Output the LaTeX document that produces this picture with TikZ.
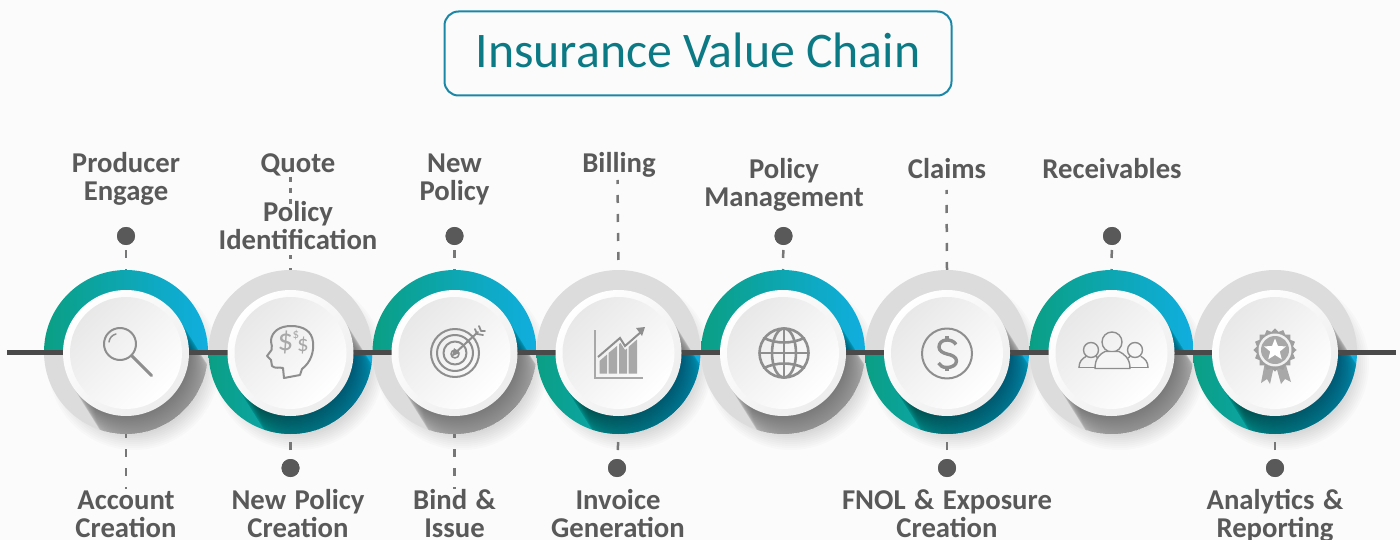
\documentclass[tikz,border=0pt]{standalone}
\usepackage{fontspec}
\setmainfont{Carlito}
\newfontfamily\labfont[WordSpace=1.3]{Carlito}
\usetikzlibrary{calc}
\definecolor{bgc}{HTML}{FBFBFB}
\definecolor{tealc}{HTML}{0A9F84}
\definecolor{bluec}{HTML}{10AEE0}
\definecolor{ringgrey}{HTML}{DCDCDC}
\definecolor{linec}{HTML}{4A4A4A}
\definecolor{dotc}{HTML}{595959}
\definecolor{dashc}{HTML}{777777}
\definecolor{textc}{HTML}{595959}
\definecolor{titlec}{HTML}{0B7A85}
\definecolor{framec}{HTML}{1B87A6}
\definecolor{iconc}{HTML}{8E8E8E}
\definecolor{iconl}{HTML}{A8A8A8}
\tikzset{
  lab/.style={font=\labfont\fontsize{28.7}{28}\selectfont\bfseries,text=textc,align=center,inner sep=0pt},
  dotn/.style={circle,fill=dotc,minimum size=18pt,inner sep=0pt},
  conn/.style={draw=dashc,line width=2.5pt,dash pattern=on 8pt off 11pt},
  ringn/.style={circle,minimum size=164pt,inner sep=0pt},
  whiten/.style={circle,minimum size=126pt,inner sep=0pt,shading=axial,top color=white,bottom color=white!93!black,shading angle=45},
  innern/.style={circle,minimum size=112pt,inner sep=0pt,shading=axial,top color=white!91!black,bottom color=white,shading angle=45},
  ic/.style={draw=iconc,line width=2pt,line join=round,line cap=round},
  icl/.style={fill=iconl,draw=none},
}
\newcommand{\softshadow}[2]{%
  \foreach \rr in {66,68,...,86}{\fill[black,opacity=.014] ($(#2,352)+(8,12)$) circle[radius=\rr];}%
}
\newcommand{\longshadow}[2]{%
  \begin{scope}
    \clip (#2,352) circle[radius=82];
    \foreach \tt in {1,...,40}{\fill[black,opacity=.013] ($(#2,353)+(.53*1.5*\tt,.85*1.5*\tt)$) circle[radius=63];}
  \end{scope}%
}
\newcommand{\colortop}[2]{%
  \softshadow{#1}{#2}%
  \fill[ringgrey] (#2-82,352) arc[start angle=180,end angle=0,radius=82] -- cycle;
  \path[left color=tealc,right color=bluec] (#2-82,352) arc[start angle=180,end angle=360,radius=82] -- cycle;
  \longshadow{#1}{#2}%
}
\newcommand{\colorbot}[2]{%
  \softshadow{#1}{#2}%
  \fill[ringgrey] (#2-82,352) arc[start angle=180,end angle=360,radius=82] -- cycle;
  \path[left color=tealc,right color=bluec] (#2-82,352) arc[start angle=180,end angle=0,radius=82] -- cycle;
  \longshadow{#1}{#2}%
}
\begin{document}
\begin{tikzpicture}[x=1pt,y=-1pt]
\useasboundingbox (0,0) rectangle (1400,540);
\fill[bgc] (0,0) rectangle (1400,540);
% title
\node[draw=framec,line width=2pt,rounded corners=14pt,minimum width=507pt,minimum height=84pt,inner sep=0pt,text=titlec,font=\fontsize{49.8}{56}\selectfont] (title) at (698,53.5) {\raisebox{6pt}{Insurance Value Chain}};
% ring anchors
\foreach \n/\x in {1/126,2/290.5,3/454.5,4/618.5,5/783,6/947,7/1111.5,8/1275}{
  \node[ringn] (r\n) at (\x,352) {};
}
\colortop{1}{126}
\colorbot{2}{290.5}
\colortop{3}{454.5}
\colorbot{4}{618.5}
\colortop{5}{783}
\colorbot{6}{947}
\colortop{7}{1111.5}
\colorbot{8}{1275}
% axis line
\coordinate (ls) at (7,352);
\coordinate (le) at (1396,352);
\draw[linec,line width=5pt] (ls) -- (le);
% dots
\node[dotn] (d1) at (126,236) {};
\node[dotn] (d2) at (290.5,468) {};
\node[dotn] (d3) at (454.5,236) {};
\node[dotn] (d4) at (617,468) {};
\node[dotn] (d5) at (783.5,236) {};
\node[dotn] (d6) at (947,468) {};
\node[dotn] (d7) at (1112,236) {};
\node[dotn] (d8) at (1275,468) {};
% labels
\node[lab] (t1) at (126,179) {Producer\\Engage};
\node[lab] (t2a) at (298,165) {Quote};
\node[lab] (t2) at (298,226) {Policy\\Identification};
\node[lab] (t3) at (454.5,179) {New\\Policy};
\node[lab] (t4) at (619,165) {Billing};
\node[lab] (t5) at (784,185) {Policy\\Management};
\node[lab] (t6) at (947,169) {Claims};
\node[lab] (t7) at (1112,169) {Receivables};
\node[lab] (b1) at (126,514) {Account\\Creation};
\node[lab] (b2) at (298,514) {New Policy\\Creation};
\node[lab] (b3) at (454.5,514) {Bind \&\\Issue};
\node[lab] (b4) at (618,514) {Invoice\\Generation};
\node[lab] (b6) at (947,514) {FNOL \& Exposure\\Creation};
\node[lab] (b8) at (1275,516) {Analytics \&\\Reporting};
% connectors
\coordinate (q2) at (290.5,177);
\coordinate (q2b) at (290.5,205);
\coordinate (q2c) at (290.5,253);
\coordinate (q4) at (617.5,180);
\coordinate (q6) at (946.5,190);
\coordinate (e1) at (126,489);
\coordinate (e3) at (454.5,489);
\path[conn,dash phase=5] (d1.center) -- (r1.north);
\path[conn,dash phase=5] (d3.center) -- (r3.north);
\path[conn,dash phase=5] (d5.center) -- (r5.north);
\path[conn,dash phase=5] (d7.center) -- (r7.north);
\path[conn,dash phase=1] (d2.center) -- (r2.south);
\path[conn,dash phase=1] (d4.center) -- (r4.south);
\path[conn,dash phase=1] (d6.center) -- (r6.south);
\path[conn,dash phase=1] (d8.center) -- (r8.south);
\path[conn,dash phase=4] (r1.south) -- (e1);
\path[conn,dash phase=4] (r3.south) -- (e3);
\path[conn,dash pattern=on 5pt off 6pt] (q2) -- (q2b);
\path[conn,dash pattern=on 4pt off 9pt,dash phase=11] (q2c) -- (r2.north);
\path[conn,dash phase=4] (q4) -- (r4.north);
\path[conn,dash phase=4] (q6) -- (r6.north);
% redraw dots above dashes
\foreach \n in {1,...,8}{\fill[dotc] (d\n) circle[radius=9];}
% discs
\foreach \n/\x in {1/126,2/290.5,3/454.5,4/618.5,5/783,6/947,7/1111.5,8/1275}{
  \node[whiten] (c\n) at (\x,353) {};
  \node[innern] (i\n) at (\x,353) {};
}
% icon 1 magnifier
\draw[ic] (120,344) circle[radius=16];
\draw[ic,line width=3pt] (132,356) -- (151.5,375.5);
\draw[ic,line width=1.5pt] (109,342) .. controls (109.5,338) and (112,335) .. (116,334);
% icon 2 head
\draw[ic] (284,378) -- (300,375) -- (302,369) .. controls (311,362) and (314,352) .. (313,342)
  .. controls (312,331) and (303,326) .. (291,326) .. controls (279,326) and (272,332) .. (271,340)
  .. controls (271,345) and (273,347) .. (271.5,350) -- (267,356) -- (271,360) -- (272,366)
  .. controls (275,369) and (280,367) .. (283,368) -- cycle;
\node[text=iconl,font=\fontsize{31}{31}\selectfont,inner sep=0pt] (s1) at (285.5,342) {\$};
\node[text=iconl,font=\fontsize{13}{13}\selectfont,inner sep=0pt] (s2) at (296,335) {\$};
\node[text=iconl,font=\fontsize{23}{23}\selectfont,inner sep=0pt] (s3) at (303,346) {\$};
% icon 3 target
\foreach \r in {24,18,11.5}{\draw[ic] (455,353) circle[radius=\r];}
\draw[ic,line width=1.6pt] (455,354) circle[radius=4];
\draw[ic] (453,355) -- (478,332);
\fill[iconc] (452,356) -- (454,348) -- (460,353) -- cycle;
\draw[ic,line width=1.8pt] (475,329) -- (477,334) -- (483,335);
\draw[ic,line width=1.8pt] (479,326) -- (481,331) -- (485,331);
% icon 4 chart
\draw[draw=iconl,line width=2pt] (594.5,330) -- (594.5,377.5) -- (643,377.5);
\draw[draw=iconc,line width=2pt] (598,357) -- (620,338) -- (625,346) -- (641,332);
\fill[iconc] (645,327) -- (636,328) -- (642,336) -- cycle;
\fill[iconl] (599.5,361) -- (607,354.5) -- (607,373.5) -- (599.5,373.5) -- cycle;
\fill[iconl] (608.5,353) -- (617,346) -- (617,373.5) -- (608.5,373.5) -- cycle;
\fill[iconl] (619,344) -- (620.5,343) -- (625,350) -- (627,348.5) -- (627,373.5) -- (619,373.5) -- cycle;
\fill[iconl] (628.5,347) -- (637,339.5) -- (637,373.5) -- (628.5,373.5) -- cycle;
% icon 5 globe
\draw[ic,line width=2.6pt] (784,353) circle[radius=24.5];
\draw[ic,line width=2.6pt] (784,353) ellipse[x radius=12,y radius=24.5];
\draw[ic,line width=2.6pt] (784,328.5) -- (784,377.5);
\draw[ic,line width=2.6pt] (759.5,353) -- (808.5,353);
\draw[ic,line width=2.6pt] (764,338) .. controls (776,344) and (792,344) .. (804,338);
\draw[ic,line width=2.6pt] (764,368) .. controls (776,362) and (792,362) .. (804,368);
% icon 6 dollar
\draw[ic] (947,353.5) circle[radius=25];
\draw[ic,line width=3.4pt,line cap=butt] (956,344.5) .. controls (954,341) and (950,340) .. (947,340) .. controls (942,340) and (939,343) .. (939,347) .. controls (939,351) and (943,353) .. (947,354) .. controls (952,355) and (956.5,357) .. (956.5,361) .. controls (956.5,365) and (952,367.5) .. (947,367.5) .. controls (943,367.5) and (940,366) .. (938.5,363);
\draw[ic,line width=3.4pt,line cap=butt] (947,336) -- (947,340);
\draw[ic,line width=3.4pt,line cap=butt] (947,367) -- (947,371);
% icon 7 people
\draw[ic,line width=1.4pt] (1112,342) circle[radius=10];
\draw[ic,line width=1.4pt,fill=white!96!black] (1095,368.5) .. controls (1095,358) and (1100,354) .. (1105,351.5) -- (1119,351.5) .. controls (1124,354) and (1130,358) .. (1130,368.5) -- cycle;
\draw[ic,line width=1.4pt] (1091,350) circle[radius=7.5];
\draw[ic,line width=1.4pt] (1079,367.5) .. controls (1079,362) and (1082,358.5) .. (1086,356.5) (1096,356.5) .. controls (1097,357) and (1098,358) .. (1098,358);
\draw[ic,line width=1.4pt] (1079,367.5) -- (1095,367.5);
\draw[ic,line width=1.4pt] (1135,350) circle[radius=7.5];
\draw[ic,line width=1.4pt] (1148,367.5) .. controls (1148,362) and (1145,358.5) .. (1141,356.5) (1130,356.5) -- (1128,358);
\draw[ic,line width=1.4pt] (1130,367.5) -- (1148,367.5);
% icon 8 award
\fill[iconl] (1265,362) -- (1261,383) -- (1267,379) -- (1270,384) -- (1274,366) -- cycle;
\fill[iconl] (1285,362) -- (1291,382) -- (1285,379) -- (1281,384) -- (1276,366) -- cycle;
\fill[iconc!85!white] plot[samples=33,domain=0:360,smooth cycle] ({1275+(20+1.6*cos(16*\x))*cos(\x)},{350+(20+1.6*cos(16*\x))*sin(\x)});
\fill[white!94!black] (1275,350) circle[radius=16.5];
\fill[iconl] (1275,350) circle[radius=14];
\fill[white] plot[samples=11,domain=0:10] ({1275+(mod(\x,2)==0?11.5:5)*cos(-90+36*\x)},{350+(mod(\x,2)==0?11.5:5)*sin(-90+36*\x)}) -- cycle;
\end{tikzpicture}
\end{document}
